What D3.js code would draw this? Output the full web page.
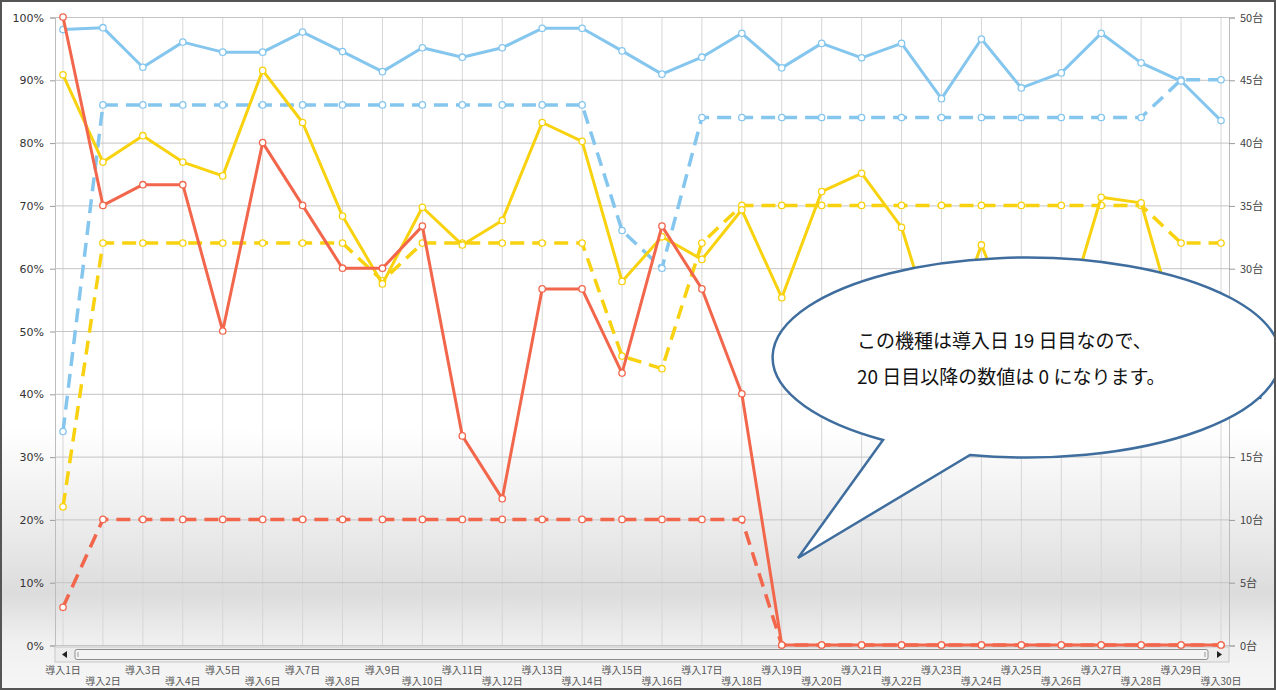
<!DOCTYPE html>
<html>
<head>
<meta charset="utf-8">
<script src="https://cdn.jsdelivr.net/npm/d3@7"></script>
<style>
  html, body { margin: 0; padding: 0; background: #fff; }
  svg { display: block; font-family: "Noto Sans CJK JP", "Noto Sans", sans-serif; }
</style>
</head>
<body>
<div class="chart"></div>
<script>
// days 1..30
const days = d3.range(1, 31).map(d => "導入" + d + "日");

// solid series: percent (left axis)
const blueRate = [98, 98.3, 92, 96, 94.4, 94.4, 97.6, 94.5, 91.3, 95.1, 93.6, 95.1, 98.2, 98.2, 94.6,
                  90.9, 93.6, 97.4, 91.9, 95.8, 93.5, 95.8, 87, 96.5, 88.7, 91.1, 97.4, 92.7, 89.8, 83.5];
const yellowRate = [90.8, 76.9, 81.1, 76.9, 74.7, 91.5, 83.2, 68.3, 57.5, 69.7, 63.7, 67.6, 83.2, 80.2, 57.9,
                    65, 61.4, 69.3, 55.3, 72.2, 75.1, 66.5, 46, 63.7, 48, 50, 71.3, 70.4, 48, 52];
const redRate = [100, 70, 73.3, 73.3, 50, 80, 70, 60, 60, 66.7, 33.3, 23.3, 56.7, 56.7, 43.3,
                 66.7, 56.7, 40, 0, 0, 0, 0, 0, 0, 0, 0, 0, 0, 0, 0];

// dashed series: units (right axis)
const blueUnits = [17, 43, 43, 43, 43, 43, 43, 43, 43, 43, 43, 43, 43, 43, 33,
                   30, 42, 42, 42, 42, 42, 42, 42, 42, 42, 42, 42, 42, 45, 45];
const yellowUnits = [11, 32, 32, 32, 32, 32, 32, 32, 29, 32, 32, 32, 32, 32, 23,
                     22, 32, 35, 35, 35, 35, 35, 35, 35, 35, 35, 35, 35, 32, 32];
const redUnits = [3, 10, 10, 10, 10, 10, 10, 10, 10, 10, 10, 10, 10, 10, 10,
                  10, 10, 10, 0, 0, 0, 0, 0, 0, 0, 0, 0, 0, 0, 0];

const leftTicks = d3.range(0, 101, 10);
const rightTicks = d3.range(0, 51, 5);

const W = 1276, H = 690;
const margin = {top: 17, right: 55, bottom: 45, left: 55};

const svg = d3.select(".chart").append("svg")
  .attr("width", W)
  .attr("height", H);

// background gradient
const defs = svg.append("defs");
const bg = defs.append("linearGradient")
  .attr("id", "bg").attr("x1", 0).attr("y1", 0).attr("x2", 0).attr("y2", 1);
[[0, "#ffffff"], [0.62, "#ffffff"], [0.78, "#e9e9e9"], [0.86, "#dcdcdc"], [0.93, "#f0f0f0"], [1, "#f6f6f6"]]
  .forEach(s => bg.append("stop").attr("offset", s[0]).attr("stop-color", s[1]));

svg.append("rect")
  .attr("width", W).attr("height", H)
  .attr("fill", "url(#bg)");

const x = d3.scalePoint()
  .domain(days)
  .range([63, 1221]);

const yL = d3.scaleLinear().domain([0, 100]).range([645, 17]);
const yR = d3.scaleLinear().domain([0, 50]).range([645, 17]);

const plotL = 55, plotR = 1229;

// vertical gridlines
svg.append("g")
  .selectAll("line")
  .data(days)
  .enter().append("line")
  .attr("x1", d => x(d)).attr("x2", d => x(d))
  .attr("y1", yL(100)).attr("y2", yL(0))
  .attr("stroke", "#d6d6d6")
  .attr("stroke-width", 1);

// horizontal gridlines
svg.append("g")
  .selectAll("line")
  .data(leftTicks)
  .enter().append("line")
  .attr("x1", plotL).attr("x2", plotR)
  .attr("y1", d => yL(d) + 0.5).attr("y2", d => yL(d) + 0.5)
  .attr("stroke", "#c4c4c4")
  .attr("stroke-width", 1);

// axes
const leftAxis = svg.append("g")
  .attr("transform", "translate(" + plotL + ",0.5)")
  .call(d3.axisLeft(yL).tickValues(leftTicks).tickSize(5).tickPadding(6).tickFormat(d => d + "%"));
const rightAxis = svg.append("g")
  .attr("transform", "translate(" + plotR + ",0.5)")
  .call(d3.axisRight(yR).tickValues(rightTicks).tickSize(6).tickPadding(5).tickFormat(d => d + "台"));

[leftAxis, rightAxis].forEach(a => {
  a.select(".domain").attr("stroke", "#bdbdbd");
  a.selectAll(".tick line").attr("stroke", "#9a9a9a");
  a.selectAll(".tick text")
    .attr("fill", "#333")
    .style("font-size", "11px")
    .style("font-family", "'DejaVu Sans', sans-serif");
});
rightAxis.selectAll(".tick text").style("font-family", "'Noto Sans CJK JP', sans-serif").attr("fill", "#444");

// scrollbar
const sb = svg.append("g");
sb.append("rect").attr("x", plotL).attr("y", 647).attr("width", plotR - plotL).attr("height", 15)
  .attr("fill", "#ececec").attr("stroke", "#c8c8c8");
sb.append("rect").attr("x", 75).attr("y", 649.5).attr("width", 1133).attr("height", 10).attr("rx", 2)
  .attr("fill", "#f4f4f4").attr("stroke", "#8e8e8e");
sb.append("path").attr("d", "M67,651 L62,654.5 L67,658 Z").attr("fill", "#222");
sb.append("path").attr("d", "M1217,651 L1222,654.5 L1217,658 Z").attr("fill", "#222");
sb.append("line").attr("x1", 78).attr("x2", 78).attr("y1", 652).attr("y2", 657).attr("stroke", "#999");
sb.append("line").attr("x1", 1205).attr("x2", 1205).attr("y1", 652).attr("y2", 657).attr("stroke", "#999");

// x labels, alternating rows
svg.append("g")
  .selectAll("text")
  .data(days)
  .enter().append("text")
  .attr("x", d => x(d))
  .attr("y", (d, i) => i % 2 === 0 ? 674 : 685)
  .attr("text-anchor", "middle")
  .attr("fill", "#555")
  .style("font-size", "10px")
  .text(d => d);

// series
const series = [
  {vals: blueUnits, scale: yR, color: "#85c6ee", dash: true},
  {vals: blueRate, scale: yL, color: "#85c6ee", dash: false},
  {vals: yellowUnits, scale: yR, color: "#f8d20e", dash: true},
  {vals: yellowRate, scale: yL, color: "#f8d20e", dash: false},
  {vals: redUnits, scale: yR, color: "#f2664c", dash: true},
  {vals: redRate, scale: yL, color: "#f2664c", dash: false}
];

series.forEach(s => {
  const line = d3.line()
    .x((d, i) => x(days[i]))
    .y(d => s.scale(d));
  svg.append("path")
    .datum(s.vals)
    .attr("d", line)
    .attr("fill", "none")
    .attr("stroke", s.color)
    .attr("stroke-width", s.dash ? 3.5 : 3)
    .attr("stroke-dasharray", s.dash ? "14,8" : null)
    .attr("stroke-linejoin", "round");
  svg.append("g")
    .selectAll("circle")
    .data(s.vals)
    .enter().append("circle")
    .attr("cx", (d, i) => x(days[i]))
    .attr("cy", d => s.scale(d))
    .attr("r", 3.2)
    .attr("fill", "#fff")
    .attr("stroke", s.color)
    .attr("stroke-width", 1.3);
});

// callout
const cx = 1027, cy = 357, rx = 254, ry = 100;
svg.append("path")
  .attr("d", "M970,455 A" + rx + "," + ry + " 0 1,0 883,440 L798,558 Z")
  .attr("fill", "#fff")
  .attr("stroke", "#3e6d9e")
  .attr("stroke-width", 2.5)
  .attr("stroke-linejoin", "miter");

const note = svg.append("g")
  .style("font-size", "19px")
  .attr("fill", "#111");
note.append("text").attr("x", 857).attr("y", 348).text("この機種は導入日 19 日目なので、");
note.append("text").attr("x", 857).attr("y", 384).text("20 日目以降の数値は 0 になります。");

// frame
svg.append("rect")
  .attr("x", 1).attr("y", 1).attr("width", W - 2).attr("height", H - 2)
  .attr("fill", "none")
  .attr("stroke", "#555")
  .attr("stroke-width", 2);
</script>
</body>
</html>
